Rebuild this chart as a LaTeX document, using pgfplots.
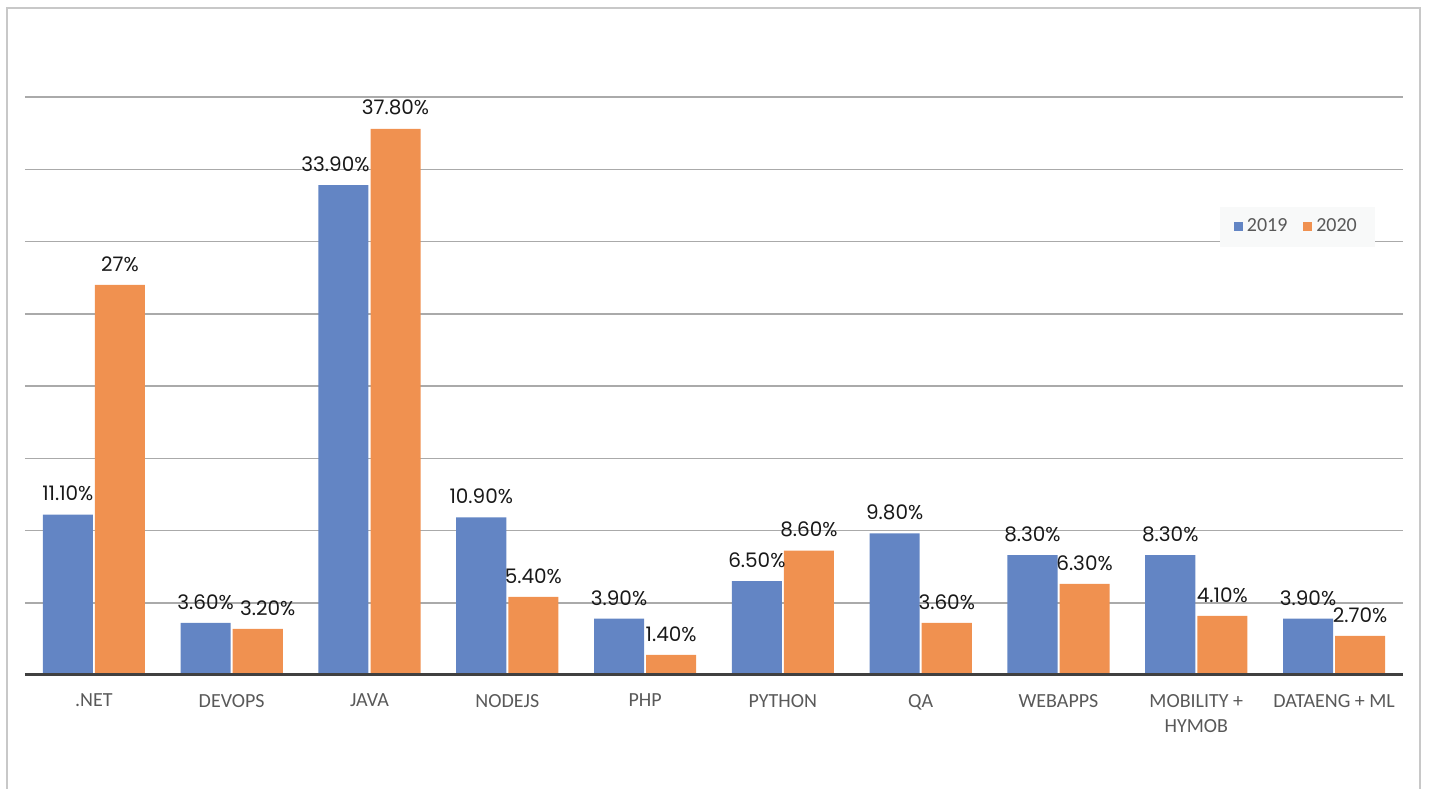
\documentclass[border=0pt]{standalone}
\usepackage{pgfplots}
\pgfplotsset{compat=1.18}
\usepackage{pgfplotstable}
\usepackage{fontspec}
\setmainfont{Carlito}
\newfontfamily\labfont{Poppins}
\definecolor{cblue}{RGB}{99,133,196}
\definecolor{corange}{RGB}{240,145,80}
\definecolor{gridc}{RGB}{170,170,170}
\definecolor{framec}{RGB}{200,200,200}
\definecolor{basec}{RGB}{64,64,64}
\definecolor{tickc}{RGB}{89,89,89}
\definecolor{legbg}{RGB}{248,249,249}

\pgfplotstableread{
x y lab
0 11.1 11.10\%
1 3.6 3.60\%
2 33.9 33.90\%\hspace*{8pt}
3 10.9 10.90\%
4 3.9 3.90\%
5 6.5 6.50\%
6 9.8 9.80\%
7 8.3 8.30\%
8 8.3 8.30\%
9 3.9 3.90\%
}\datafirst
\pgfplotstableread{
x y lab
0 27.0 27\%
1 3.2 \hspace*{10pt}3.20\%
2 37.8 37.80\%
3 5.4 5.40\%
4 1.4 1.40\%
5 8.6 8.60\%
6 3.6 3.60\%
7 6.3 6.30\%
8 4.1 4.10\%
9 2.7 2.70\%
}\datasecond

\begin{document}
\begin{tikzpicture}[x=0.5pt,y=0.5pt]
\useasboundingbox (0,0) rectangle (1429,788);
\draw[framec, line width=1.2pt] (7,-20) -- (7,780) -- (1420,780) -- (1420,-20);
\begin{axis}[
  at={(12.5pt,56.5pt)}, anchor=south west,
  scale only axis, width=689pt, height=289pt,
  xmin=-0.5, xmax=9.5, ymin=0, ymax=40,
  axis line style={draw=none},
  ytick={5,10,...,40}, yticklabels={},
  ymajorgrids, grid style={gridc, line width=0.75pt},
  major tick length=0pt,
  xtick={0,...,9},
  xticklabels={.NET,DEVOPS,JAVA,NODEJS,PHP,PYTHON,QA,WEBAPPS,{MOBILITY +\\HYMOB},DATAENG + ML},
  xticklabel style={font=\fontsize{10pt}{12.5pt}\selectfont, text=tickc, align=center, anchor=north, yshift=-6pt},
  ybar, bar width=0.3634,
  nodes near coords,
  point meta=explicit symbolic,
  every node near coord/.append style={font=\labfont\fontsize{10pt}{12pt}\selectfont, text=black!90, anchor=south, inner sep=0pt, yshift=6.5pt},
  legend style={at={(rel axis cs:0.867,0.811)}, anchor=north west, fill=legbg, draw=none,
    legend columns=2, font=\fontsize{10pt}{12pt}\selectfont, text=tickc,
    inner xsep=7pt, inner ysep=4pt,
    /tikz/every even column/.append style={column sep=6pt}},
  legend image code/.code={\fill[#1] (0pt,-2.2pt) rectangle (4.4pt,2.2pt);},
]
\addplot[fill=cblue, draw=none, bar shift=-0.189] table[x=x,y=y,meta=lab] {\datafirst};
\addplot[fill=corange, draw=none, bar shift=0.189] table[x=x,y=y,meta=lab] {\datasecond};
\legend{2019,2020}
\draw[basec, line width=2pt] (axis cs:-0.5,0) -- (axis cs:9.5,0);
\end{axis}
\end{tikzpicture}
\end{document}
